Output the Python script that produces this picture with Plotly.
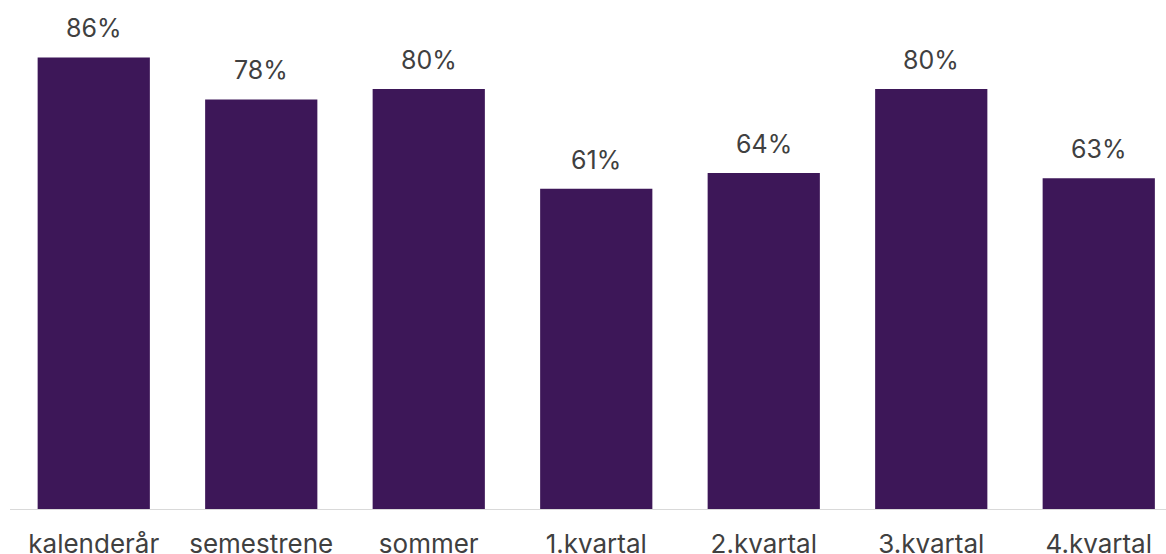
import plotly.graph_objects as go

categories = ["kalenderår", "semestrene", "sommer", "1.kvartal", "2.kvartal", "3.kvartal", "4.kvartal"]
values = [86, 78, 80, 61, 64, 80, 63]

BAR_COLOR = "#3d1758"
TEXT_COLOR = "#404040"
FONT = "Inter"

fig = go.Figure(
    go.Bar(
        x=categories,
        y=values,
        marker=dict(color=BAR_COLOR, line=dict(width=0)),
        hoverinfo="skip",
    )
)

# value labels above each bar
for cat, val in zip(categories, values):
    fig.add_annotation(
        x=cat, y=val, text=f"{val}%", showarrow=False,
        xref="x", yref="y", yanchor="bottom", yshift=12,
        font=dict(family=FONT, size=25, color=TEXT_COLOR),
    )

fig.update_layout(
    width=1166, height=554,
    margin=dict(l=10, r=0, t=0, b=45),
    paper_bgcolor="white", plot_bgcolor="white",
    bargap=0.33,
    showlegend=False,
    font=dict(family=FONT, color=TEXT_COLOR),
)
fig.update_xaxes(
    range=[-0.5, 6.4015], automargin=False,
    showline=True, linecolor="#d9d9d9", linewidth=1,
    showgrid=False, zeroline=False,
    ticks="outside", ticklen=12, tickcolor="rgba(0,0,0,0)",
    tickfont=dict(family=FONT, size=26, color=TEXT_COLOR),
)
fig.update_yaxes(
    range=[0, 96.95], visible=False, showgrid=False, zeroline=False,
    automargin=False,
)

fig.write_html("out.html")
